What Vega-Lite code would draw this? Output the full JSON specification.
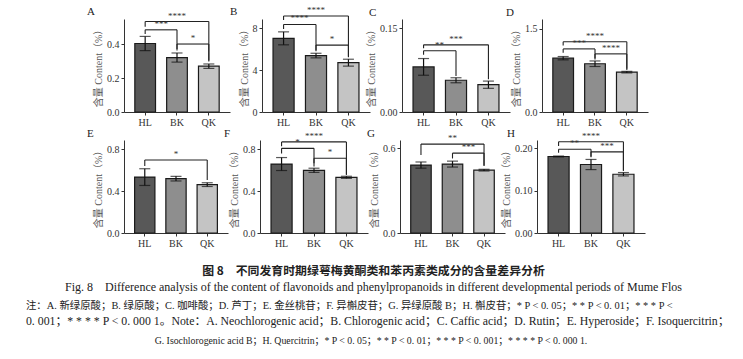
{
"$schema": "https://vega.github.io/schema/vega-lite/v6.json",
"padding": {"left": 25, "top": 5, "right": 5, "bottom": 3},
"background": "white",
"datasets": {
"bars": [
{"panel":"A","period":"HL","mean":0.405,"err":0.042},{"panel":"A","period":"BK","mean":0.322,"err":0.027},{"panel":"A","period":"QK","mean":0.271,"err":0.013},
{"panel":"B","period":"HL","mean":7.05,"err":0.62},{"panel":"B","period":"BK","mean":5.4,"err":0.22},{"panel":"B","period":"QK","mean":4.72,"err":0.33},
{"panel":"C","period":"HL","mean":0.081,"err":0.015},{"panel":"C","period":"BK","mean":0.057,"err":0.0045},{"panel":"C","period":"QK","mean":0.049,"err":0.0065},
{"panel":"D","period":"HL","mean":0.972,"err":0.03},{"panel":"D","period":"BK","mean":0.872,"err":0.05},{"panel":"D","period":"QK","mean":0.72,"err":0.014},
{"panel":"E","period":"HL","mean":0.535,"err":0.08},{"panel":"E","period":"BK","mean":0.52,"err":0.022},{"panel":"E","period":"QK","mean":0.463,"err":0.018},
{"panel":"F","period":"HL","mean":0.66,"err":0.062},{"panel":"F","period":"BK","mean":0.6,"err":0.02},{"panel":"F","period":"QK","mean":0.533,"err":0.01},
{"panel":"G","period":"HL","mean":0.482,"err":0.022},{"panel":"G","period":"BK","mean":0.489,"err":0.021},{"panel":"G","period":"QK","mean":0.446,"err":0.006},
{"panel":"H","period":"HL","mean":0.181,"err":0.001},{"panel":"H","period":"BK","mean":0.162,"err":0.012},{"panel":"H","period":"QK","mean":0.139,"err":0.004}
],
"brackets": [
{"panel":"A","from":"HL","to":"QK","mid":"BK","kind":"long","h":0.535,"lowFrom":0.504,"lowTo":0.304,"label":"****"},
{"panel":"A","from":"HL","to":"BK","mid":"HL","kind":"adj","h":0.486,"lowFrom":0.461,"lowTo":0.373,"label":"***"},
{"panel":"A","from":"BK","to":"QK","mid":"BK","kind":"adj","h":0.402,"lowFrom":0.363,"lowTo":0.298,"label":"*"},
{"panel":"B","from":"HL","to":"QK","mid":"BK","kind":"long","h":9.18,"lowFrom":8.8,"lowTo":5.25,"label":"****"},
{"panel":"B","from":"HL","to":"BK","mid":"HL","kind":"adj","h":8.38,"lowFrom":7.94,"lowTo":5.82,"label":"****"},
{"panel":"B","from":"BK","to":"QK","mid":"BK","kind":"adj","h":6.4,"lowFrom":5.92,"lowTo":5.3,"label":"*"},
{"panel":"C","from":"HL","to":"QK","mid":"BK","kind":"long","h":0.1206,"lowFrom":0.1147,"lowTo":0.0588,"label":"***"},
{"panel":"C","from":"HL","to":"BK","mid":"HL","kind":"adj","h":0.11,"lowFrom":0.103,"lowTo":0.0647,"label":"**"},
{"panel":"D","from":"HL","to":"QK","mid":"BK","kind":"long","h":1.27,"lowFrom":1.2,"lowTo":0.78,"label":"****"},
{"panel":"D","from":"HL","to":"BK","mid":"HL","kind":"adj","h":1.14,"lowFrom":1.07,"lowTo":0.95,"label":"***"},
{"panel":"D","from":"BK","to":"QK","mid":"BK","kind":"adj","h":1.05,"lowFrom":0.97,"lowTo":0.76,"label":"****"},
{"panel":"E","from":"HL","to":"QK","mid":"BK","kind":"long","h":0.698,"lowFrom":0.641,"lowTo":0.508,"label":"*"},
{"panel":"F","from":"HL","to":"QK","mid":"BK","kind":"long","h":0.872,"lowFrom":0.83,"lowTo":0.558,"label":"****"},
{"panel":"F","from":"HL","to":"BK","mid":"HL","kind":"adj","h":0.81,"lowFrom":0.762,"lowTo":0.637,"label":"*"},
{"panel":"F","from":"BK","to":"QK","mid":"BK","kind":"adj","h":0.715,"lowFrom":0.668,"lowTo":0.558,"label":"*"},
{"panel":"G","from":"HL","to":"QK","mid":"BK","kind":"long","h":0.631,"lowFrom":0.553,"lowTo":0.477,"label":"**"},
{"panel":"G","from":"BK","to":"QK","mid":"BK","kind":"adj","h":0.567,"lowFrom":0.529,"lowTo":0.477,"label":"***"},
{"panel":"H","from":"HL","to":"QK","mid":"BK","kind":"long","h":0.216,"lowFrom":0.206,"lowTo":0.147,"label":"****"},
{"panel":"H","from":"HL","to":"BK","mid":"HL","kind":"adj","h":0.198,"lowFrom":0.19,"lowTo":0.179,"label":"**"},
{"panel":"H","from":"BK","to":"QK","mid":"BK","kind":"adj","h":0.192,"lowFrom":0.181,"lowTo":0.147,"label":"***"}
]
},
"title": {
"text": "G. Isochlorogenic acid B；H. Quercitrin；* P < 0. 05；* * P < 0. 01；* * * P < 0. 001；* * * * P < 0. 000 1.",
"orient": "bottom", "anchor": "middle", "offset": 8, "dx": -7,
"font": "Liberation Serif, Noto Sans CJK SC", "fontSize": 9.8, "fontWeight": "normal", "color": "#222"
},
"config": {
"view": {"stroke": null},
"axis": {"labelFont": "Liberation Serif", "labelFontSize": 10, "labelColor": "#333", "domainColor": "#333", "tickColor": "#333", "tickSize": 3, "grid": false, "titleFont": "Liberation Serif, Noto Sans CJK SC", "titleFontSize": 10, "titleFontWeight": "normal", "titleColor": "#555", "labelPadding": 2, "titlePadding": 3},
"axisX": {"labelAngle": 0, "labelPadding": 2}
},
"vconcat": [
{"title": {
"text": "注：A. 新绿原酸；B. 绿原酸；C. 咖啡酸；D. 芦丁；E. 金丝桃苷；F. 异槲皮苷；G. 异绿原酸 B；H. 槲皮苷；* P < 0. 05；* * P < 0. 01；* * * P <",
"subtitle": "0. 001；* * * * P < 0. 000 1。Note：A. Neochlorogenic acid；B. Chlorogenic acid；C. Caffic acid；D. Rutin；E. Hyperoside；F. Isoquercitrin；",
"orient": "bottom", "anchor": "start", "offset": 8, "dx": -39,
"font": "Liberation Serif, Noto Sans CJK SC", "fontSize": 10.4, "fontWeight": "normal", "color": "#222",
"subtitleFont": "Liberation Serif, Noto Sans CJK SC", "subtitleFontSize": 11.8, "subtitleColor": "#222", "subtitlePadding": 5
},
"vconcat": [
{"title": {
"text": "图 8　不同发育时期绿萼梅黄酮类和苯丙素类成分的含量差异分析",
"orient": "bottom", "anchor": "middle", "offset": 18, "dx": 6,
"font": "Noto Sans CJK SC", "fontSize": 11.9, "fontWeight": "bold", "color": "#222",
"subtitle": "Fig. 8　Difference analysis of the content of flavonoids and phenylpropanoids in different developmental periods of Mume Flos",
"subtitleFont": "Liberation Serif", "subtitleFontSize": 12, "subtitleColor": "#222", "subtitlePadding": 4
},
"vconcat": [
{"hconcat": [
{"width":106,"height":93,"title":{"text":"A","anchor":"start","frame":"group","dx":-37,"dy":9,"fontSize":11,"font":"Liberation Serif","fontWeight":"normal","color":"#222"},
"layer":[
{"data":{"name":"bars"},"transform":[{"filter":"datum.panel==='A'"}],"mark":{"type":"bar","stroke":"#1a1a1a","strokeWidth":1.2},"encoding":{"x":{"field":"period","type":"nominal","title":null,"scale":{"domain":["HL","BK","QK"],"paddingInner":0.35,"paddingOuter":0.34}},"y":{"field":"mean","type":"quantitative","title":"含量 Content（%）","scale":{"domain":[0,0.55],"nice":false},"axis":{"values":[0,0.1,0.2,0.3,0.4,0.5],"format":".1f"}},"color":{"field":"period","type":"nominal","scale":{"domain":["HL","BK","QK"],"range":["#585858","#8e8e8e","#c4c4c4"]},"legend":null}}},
{"data":{"name":"bars"},"transform":[{"filter":"datum.panel==='A'"}],"mark":{"type":"errorbar","ticks":true,"size":11,"thickness":1.2,"color":"#111"},"encoding":{"x":{"field":"period","type":"nominal","title":null},"y":{"field":"mean","type":"quantitative","title":"含量 Content（%）"},"yError":{"field":"err"}}},
{"data":{"name":"brackets"},"transform":[{"filter":"datum.panel==='A'"}],"mark":{"type":"rule","color":"#222","strokeWidth":1.1},"encoding":{"x":{"field":"from","type":"nominal","title":null},"x2":{"field":"to"},"y":{"field":"h","type":"quantitative","title":"含量 Content（%）"}}},
{"data":{"name":"brackets"},"transform":[{"filter":"datum.panel==='A'"}],"mark":{"type":"rule","color":"#222","strokeWidth":1.1},"encoding":{"x":{"field":"from","type":"nominal","title":null},"y":{"field":"h","type":"quantitative","title":"含量 Content（%）"},"y2":{"field":"lowFrom"}}},
{"data":{"name":"brackets"},"transform":[{"filter":"datum.panel==='A'"}],"mark":{"type":"rule","color":"#222","strokeWidth":1.1},"encoding":{"x":{"field":"to","type":"nominal","title":null},"y":{"field":"h","type":"quantitative","title":"含量 Content（%）"},"y2":{"field":"lowTo"}}},
{"data":{"name":"brackets"},"transform":[{"filter":"datum.panel==='A' && datum.kind==='long'"}],"mark":{"type":"text","baseline":"bottom","dy":-1,"fontSize":9,"color":"#333","font":"Liberation Serif"},"encoding":{"x":{"field":"mid","type":"nominal","title":null},"y":{"field":"h","type":"quantitative","title":"含量 Content（%）"},"text":{"field":"label"}}},
{"data":{"name":"brackets"},"transform":[{"filter":"datum.panel==='A' && datum.kind==='adj'"}],"mark":{"type":"text","baseline":"bottom","dy":-1,"xOffset":16,"fontSize":9,"color":"#333","font":"Liberation Serif"},"encoding":{"x":{"field":"from","type":"nominal","title":null},"y":{"field":"h","type":"quantitative","title":"含量 Content（%）"},"text":{"field":"label"}}}
]},
{"width":108,"height":93,"title":{"text":"B","anchor":"start","frame":"group","dx":-32,"dy":15,"fontSize":11,"font":"Liberation Serif","fontWeight":"normal","color":"#222"},
"layer":[
{"data":{"name":"bars"},"transform":[{"filter":"datum.panel==='B'"}],"mark":{"type":"bar","stroke":"#1a1a1a","strokeWidth":1.2},"encoding":{"x":{"field":"period","type":"nominal","title":null,"scale":{"domain":["HL","BK","QK"],"paddingInner":0.35,"paddingOuter":0.34}},"y":{"field":"mean","type":"quantitative","title":"含量 Content（%）","scale":{"domain":[0,8.9],"nice":false},"axis":{"values":[0,2,4,6,8],"format":"d"}},"color":{"field":"period","type":"nominal","scale":{"domain":["HL","BK","QK"],"range":["#585858","#8e8e8e","#c4c4c4"]},"legend":null}}},
{"data":{"name":"bars"},"transform":[{"filter":"datum.panel==='B'"}],"mark":{"type":"errorbar","ticks":true,"size":11,"thickness":1.2,"color":"#111"},"encoding":{"x":{"field":"period","type":"nominal","title":null},"y":{"field":"mean","type":"quantitative","title":"含量 Content（%）"},"yError":{"field":"err"}}},
{"data":{"name":"brackets"},"transform":[{"filter":"datum.panel==='B'"}],"mark":{"type":"rule","color":"#222","strokeWidth":1.1},"encoding":{"x":{"field":"from","type":"nominal","title":null},"x2":{"field":"to"},"y":{"field":"h","type":"quantitative","title":"含量 Content（%）"}}},
{"data":{"name":"brackets"},"transform":[{"filter":"datum.panel==='B'"}],"mark":{"type":"rule","color":"#222","strokeWidth":1.1},"encoding":{"x":{"field":"from","type":"nominal","title":null},"y":{"field":"h","type":"quantitative","title":"含量 Content（%）"},"y2":{"field":"lowFrom"}}},
{"data":{"name":"brackets"},"transform":[{"filter":"datum.panel==='B'"}],"mark":{"type":"rule","color":"#222","strokeWidth":1.1},"encoding":{"x":{"field":"to","type":"nominal","title":null},"y":{"field":"h","type":"quantitative","title":"含量 Content（%）"},"y2":{"field":"lowTo"}}},
{"data":{"name":"brackets"},"transform":[{"filter":"datum.panel==='B' && datum.kind==='long'"}],"mark":{"type":"text","baseline":"bottom","dy":-1,"fontSize":9,"color":"#333","font":"Liberation Serif"},"encoding":{"x":{"field":"mid","type":"nominal","title":null},"y":{"field":"h","type":"quantitative","title":"含量 Content（%）"},"text":{"field":"label"}}},
{"data":{"name":"brackets"},"transform":[{"filter":"datum.panel==='B' && datum.kind==='adj'"}],"mark":{"type":"text","baseline":"bottom","dy":-1,"xOffset":16,"fontSize":9,"color":"#333","font":"Liberation Serif"},"encoding":{"x":{"field":"from","type":"nominal","title":null},"y":{"field":"h","type":"quantitative","title":"含量 Content（%）"},"text":{"field":"label"}}}
]},
{"width":108,"height":93,"title":{"text":"C","anchor":"start","frame":"group","dx":-33,"dy":3,"fontSize":11,"font":"Liberation Serif","fontWeight":"normal","color":"#222"},
"layer":[
{"data":{"name":"bars"},"transform":[{"filter":"datum.panel==='C'"}],"mark":{"type":"bar","stroke":"#1a1a1a","strokeWidth":1.2},"encoding":{"x":{"field":"period","type":"nominal","title":null,"scale":{"domain":["HL","BK","QK"],"paddingInner":0.35,"paddingOuter":0.34}},"y":{"field":"mean","type":"quantitative","title":"含量 Content（%）","scale":{"domain":[0,0.167],"nice":false},"axis":{"values":[0,0.05,0.1,0.15],"format":".2f"}},"color":{"field":"period","type":"nominal","scale":{"domain":["HL","BK","QK"],"range":["#585858","#8e8e8e","#c4c4c4"]},"legend":null}}},
{"data":{"name":"bars"},"transform":[{"filter":"datum.panel==='C'"}],"mark":{"type":"errorbar","ticks":true,"size":11,"thickness":1.2,"color":"#111"},"encoding":{"x":{"field":"period","type":"nominal","title":null},"y":{"field":"mean","type":"quantitative","title":"含量 Content（%）"},"yError":{"field":"err"}}},
{"data":{"name":"brackets"},"transform":[{"filter":"datum.panel==='C'"}],"mark":{"type":"rule","color":"#222","strokeWidth":1.1},"encoding":{"x":{"field":"from","type":"nominal","title":null},"x2":{"field":"to"},"y":{"field":"h","type":"quantitative","title":"含量 Content（%）"}}},
{"data":{"name":"brackets"},"transform":[{"filter":"datum.panel==='C'"}],"mark":{"type":"rule","color":"#222","strokeWidth":1.1},"encoding":{"x":{"field":"from","type":"nominal","title":null},"y":{"field":"h","type":"quantitative","title":"含量 Content（%）"},"y2":{"field":"lowFrom"}}},
{"data":{"name":"brackets"},"transform":[{"filter":"datum.panel==='C'"}],"mark":{"type":"rule","color":"#222","strokeWidth":1.1},"encoding":{"x":{"field":"to","type":"nominal","title":null},"y":{"field":"h","type":"quantitative","title":"含量 Content（%）"},"y2":{"field":"lowTo"}}},
{"data":{"name":"brackets"},"transform":[{"filter":"datum.panel==='C' && datum.kind==='long'"}],"mark":{"type":"text","baseline":"bottom","dy":-1,"fontSize":9,"color":"#333","font":"Liberation Serif"},"encoding":{"x":{"field":"mid","type":"nominal","title":null},"y":{"field":"h","type":"quantitative","title":"含量 Content（%）"},"text":{"field":"label"}}},
{"data":{"name":"brackets"},"transform":[{"filter":"datum.panel==='C' && datum.kind==='adj'"}],"mark":{"type":"text","baseline":"bottom","dy":-1,"xOffset":16,"fontSize":9,"color":"#333","font":"Liberation Serif"},"encoding":{"x":{"field":"from","type":"nominal","title":null},"y":{"field":"h","type":"quantitative","title":"含量 Content（%）"},"text":{"field":"label"}}}
]},
{"width":106,"height":93,"title":{"text":"D","anchor":"start","frame":"group","dx":-36,"dy":3,"fontSize":11,"font":"Liberation Serif","fontWeight":"normal","color":"#222"},
"layer":[
{"data":{"name":"bars"},"transform":[{"filter":"datum.panel==='D'"}],"mark":{"type":"bar","stroke":"#1a1a1a","strokeWidth":1.2},"encoding":{"x":{"field":"period","type":"nominal","title":null,"scale":{"domain":["HL","BK","QK"],"paddingInner":0.35,"paddingOuter":0.34}},"y":{"field":"mean","type":"quantitative","title":"含量 Content（%）","scale":{"domain":[0,1.68],"nice":false},"axis":{"values":[0,0.5,1,1.5],"format":".1f"}},"color":{"field":"period","type":"nominal","scale":{"domain":["HL","BK","QK"],"range":["#585858","#8e8e8e","#c4c4c4"]},"legend":null}}},
{"data":{"name":"bars"},"transform":[{"filter":"datum.panel==='D'"}],"mark":{"type":"errorbar","ticks":true,"size":11,"thickness":1.2,"color":"#111"},"encoding":{"x":{"field":"period","type":"nominal","title":null},"y":{"field":"mean","type":"quantitative","title":"含量 Content（%）"},"yError":{"field":"err"}}},
{"data":{"name":"brackets"},"transform":[{"filter":"datum.panel==='D'"}],"mark":{"type":"rule","color":"#222","strokeWidth":1.1},"encoding":{"x":{"field":"from","type":"nominal","title":null},"x2":{"field":"to"},"y":{"field":"h","type":"quantitative","title":"含量 Content（%）"}}},
{"data":{"name":"brackets"},"transform":[{"filter":"datum.panel==='D'"}],"mark":{"type":"rule","color":"#222","strokeWidth":1.1},"encoding":{"x":{"field":"from","type":"nominal","title":null},"y":{"field":"h","type":"quantitative","title":"含量 Content（%）"},"y2":{"field":"lowFrom"}}},
{"data":{"name":"brackets"},"transform":[{"filter":"datum.panel==='D'"}],"mark":{"type":"rule","color":"#222","strokeWidth":1.1},"encoding":{"x":{"field":"to","type":"nominal","title":null},"y":{"field":"h","type":"quantitative","title":"含量 Content（%）"},"y2":{"field":"lowTo"}}},
{"data":{"name":"brackets"},"transform":[{"filter":"datum.panel==='D' && datum.kind==='long'"}],"mark":{"type":"text","baseline":"bottom","dy":-1,"fontSize":9,"color":"#333","font":"Liberation Serif"},"encoding":{"x":{"field":"mid","type":"nominal","title":null},"y":{"field":"h","type":"quantitative","title":"含量 Content（%）"},"text":{"field":"label"}}},
{"data":{"name":"brackets"},"transform":[{"filter":"datum.panel==='D' && datum.kind==='adj'"}],"mark":{"type":"text","baseline":"bottom","dy":-1,"xOffset":16,"fontSize":9,"color":"#333","font":"Liberation Serif"},"encoding":{"x":{"field":"from","type":"nominal","title":null},"y":{"field":"h","type":"quantitative","title":"含量 Content（%）"},"text":{"field":"label"}}}
]}
], "bounds": "flush", "spacing": 32},
{"hconcat": [
{"width":104,"height":93,"title":{"text":"E","anchor":"start","frame":"group","dx":-37,"dy":3,"fontSize":11,"font":"Liberation Serif","fontWeight":"normal","color":"#222"},
"layer":[
{"data":{"name":"bars"},"transform":[{"filter":"datum.panel==='E'"}],"mark":{"type":"bar","stroke":"#1a1a1a","strokeWidth":1.2},"encoding":{"x":{"field":"period","type":"nominal","title":null,"scale":{"domain":["HL","BK","QK"],"paddingInner":0.35,"paddingOuter":0.34}},"y":{"field":"mean","type":"quantitative","title":"含量 Content（%）","scale":{"domain":[0,0.89],"nice":false},"axis":{"values":[0,0.2,0.4,0.6,0.8],"format":".1f"}},"color":{"field":"period","type":"nominal","scale":{"domain":["HL","BK","QK"],"range":["#585858","#8e8e8e","#c4c4c4"]},"legend":null}}},
{"data":{"name":"bars"},"transform":[{"filter":"datum.panel==='E'"}],"mark":{"type":"errorbar","ticks":true,"size":11,"thickness":1.2,"color":"#111"},"encoding":{"x":{"field":"period","type":"nominal","title":null},"y":{"field":"mean","type":"quantitative","title":"含量 Content（%）"},"yError":{"field":"err"}}},
{"data":{"name":"brackets"},"transform":[{"filter":"datum.panel==='E'"}],"mark":{"type":"rule","color":"#222","strokeWidth":1.1},"encoding":{"x":{"field":"from","type":"nominal","title":null},"x2":{"field":"to"},"y":{"field":"h","type":"quantitative","title":"含量 Content（%）"}}},
{"data":{"name":"brackets"},"transform":[{"filter":"datum.panel==='E'"}],"mark":{"type":"rule","color":"#222","strokeWidth":1.1},"encoding":{"x":{"field":"from","type":"nominal","title":null},"y":{"field":"h","type":"quantitative","title":"含量 Content（%）"},"y2":{"field":"lowFrom"}}},
{"data":{"name":"brackets"},"transform":[{"filter":"datum.panel==='E'"}],"mark":{"type":"rule","color":"#222","strokeWidth":1.1},"encoding":{"x":{"field":"to","type":"nominal","title":null},"y":{"field":"h","type":"quantitative","title":"含量 Content（%）"},"y2":{"field":"lowTo"}}},
{"data":{"name":"brackets"},"transform":[{"filter":"datum.panel==='E' && datum.kind==='long'"}],"mark":{"type":"text","baseline":"bottom","dy":-1,"fontSize":9,"color":"#333","font":"Liberation Serif"},"encoding":{"x":{"field":"mid","type":"nominal","title":null},"y":{"field":"h","type":"quantitative","title":"含量 Content（%）"},"text":{"field":"label"}}}
]},
{"width":108,"height":93,"title":{"text":"F","anchor":"start","frame":"group","dx":-36,"dy":11,"fontSize":11,"font":"Liberation Serif","fontWeight":"normal","color":"#222"},
"layer":[
{"data":{"name":"bars"},"transform":[{"filter":"datum.panel==='F'"}],"mark":{"type":"bar","stroke":"#1a1a1a","strokeWidth":1.2},"encoding":{"x":{"field":"period","type":"nominal","title":null,"scale":{"domain":["HL","BK","QK"],"paddingInner":0.35,"paddingOuter":0.34}},"y":{"field":"mean","type":"quantitative","title":"含量 Content（%）","scale":{"domain":[0,0.89],"nice":false},"axis":{"values":[0,0.2,0.4,0.6,0.8],"format":".1f"}},"color":{"field":"period","type":"nominal","scale":{"domain":["HL","BK","QK"],"range":["#585858","#8e8e8e","#c4c4c4"]},"legend":null}}},
{"data":{"name":"bars"},"transform":[{"filter":"datum.panel==='F'"}],"mark":{"type":"errorbar","ticks":true,"size":11,"thickness":1.2,"color":"#111"},"encoding":{"x":{"field":"period","type":"nominal","title":null},"y":{"field":"mean","type":"quantitative","title":"含量 Content（%）"},"yError":{"field":"err"}}},
{"data":{"name":"brackets"},"transform":[{"filter":"datum.panel==='F'"}],"mark":{"type":"rule","color":"#222","strokeWidth":1.1},"encoding":{"x":{"field":"from","type":"nominal","title":null},"x2":{"field":"to"},"y":{"field":"h","type":"quantitative","title":"含量 Content（%）"}}},
{"data":{"name":"brackets"},"transform":[{"filter":"datum.panel==='F'"}],"mark":{"type":"rule","color":"#222","strokeWidth":1.1},"encoding":{"x":{"field":"from","type":"nominal","title":null},"y":{"field":"h","type":"quantitative","title":"含量 Content（%）"},"y2":{"field":"lowFrom"}}},
{"data":{"name":"brackets"},"transform":[{"filter":"datum.panel==='F'"}],"mark":{"type":"rule","color":"#222","strokeWidth":1.1},"encoding":{"x":{"field":"to","type":"nominal","title":null},"y":{"field":"h","type":"quantitative","title":"含量 Content（%）"},"y2":{"field":"lowTo"}}},
{"data":{"name":"brackets"},"transform":[{"filter":"datum.panel==='F' && datum.kind==='long'"}],"mark":{"type":"text","baseline":"bottom","dy":-1,"fontSize":9,"color":"#333","font":"Liberation Serif"},"encoding":{"x":{"field":"mid","type":"nominal","title":null},"y":{"field":"h","type":"quantitative","title":"含量 Content（%）"},"text":{"field":"label"}}},
{"data":{"name":"brackets"},"transform":[{"filter":"datum.panel==='F' && datum.kind==='adj'"}],"mark":{"type":"text","baseline":"bottom","dy":-1,"xOffset":16,"fontSize":9,"color":"#333","font":"Liberation Serif"},"encoding":{"x":{"field":"from","type":"nominal","title":null},"y":{"field":"h","type":"quantitative","title":"含量 Content（%）"},"text":{"field":"label"}}}
]},
{"width":105,"height":93,"title":{"text":"G","anchor":"start","frame":"group","dx":-33,"dy":9,"fontSize":11,"font":"Liberation Serif","fontWeight":"normal","color":"#222"},
"layer":[
{"data":{"name":"bars"},"transform":[{"filter":"datum.panel==='G'"}],"mark":{"type":"bar","stroke":"#1a1a1a","strokeWidth":1.2},"encoding":{"x":{"field":"period","type":"nominal","title":null,"scale":{"domain":["HL","BK","QK"],"paddingInner":0.35,"paddingOuter":0.34}},"y":{"field":"mean","type":"quantitative","title":"含量 Content（%）","scale":{"domain":[0,0.66],"nice":false},"axis":{"values":[0,0.2,0.4,0.6],"format":".1f"}},"color":{"field":"period","type":"nominal","scale":{"domain":["HL","BK","QK"],"range":["#585858","#8e8e8e","#c4c4c4"]},"legend":null}}},
{"data":{"name":"bars"},"transform":[{"filter":"datum.panel==='G'"}],"mark":{"type":"errorbar","ticks":true,"size":11,"thickness":1.2,"color":"#111"},"encoding":{"x":{"field":"period","type":"nominal","title":null},"y":{"field":"mean","type":"quantitative","title":"含量 Content（%）"},"yError":{"field":"err"}}},
{"data":{"name":"brackets"},"transform":[{"filter":"datum.panel==='G'"}],"mark":{"type":"rule","color":"#222","strokeWidth":1.1},"encoding":{"x":{"field":"from","type":"nominal","title":null},"x2":{"field":"to"},"y":{"field":"h","type":"quantitative","title":"含量 Content（%）"}}},
{"data":{"name":"brackets"},"transform":[{"filter":"datum.panel==='G'"}],"mark":{"type":"rule","color":"#222","strokeWidth":1.1},"encoding":{"x":{"field":"from","type":"nominal","title":null},"y":{"field":"h","type":"quantitative","title":"含量 Content（%）"},"y2":{"field":"lowFrom"}}},
{"data":{"name":"brackets"},"transform":[{"filter":"datum.panel==='G'"}],"mark":{"type":"rule","color":"#222","strokeWidth":1.1},"encoding":{"x":{"field":"to","type":"nominal","title":null},"y":{"field":"h","type":"quantitative","title":"含量 Content（%）"},"y2":{"field":"lowTo"}}},
{"data":{"name":"brackets"},"transform":[{"filter":"datum.panel==='G' && datum.kind==='long'"}],"mark":{"type":"text","baseline":"bottom","dy":-1,"fontSize":9,"color":"#333","font":"Liberation Serif"},"encoding":{"x":{"field":"mid","type":"nominal","title":null},"y":{"field":"h","type":"quantitative","title":"含量 Content（%）"},"text":{"field":"label"}}},
{"data":{"name":"brackets"},"transform":[{"filter":"datum.panel==='G' && datum.kind==='adj'"}],"mark":{"type":"text","baseline":"bottom","dy":-1,"xOffset":16,"fontSize":9,"color":"#333","font":"Liberation Serif"},"encoding":{"x":{"field":"from","type":"nominal","title":null},"y":{"field":"h","type":"quantitative","title":"含量 Content（%）"},"text":{"field":"label"}}}
]},
{"width":108,"height":93,"title":{"text":"H","anchor":"start","frame":"group","dx":-30,"dy":11,"fontSize":11,"font":"Liberation Serif","fontWeight":"normal","color":"#222"},
"layer":[
{"data":{"name":"bars"},"transform":[{"filter":"datum.panel==='H'"}],"mark":{"type":"bar","stroke":"#1a1a1a","strokeWidth":1.2},"encoding":{"x":{"field":"period","type":"nominal","title":null,"scale":{"domain":["HL","BK","QK"],"paddingInner":0.35,"paddingOuter":0.34}},"y":{"field":"mean","type":"quantitative","title":"含量 Content（%）","scale":{"domain":[0,0.22],"nice":false},"axis":{"values":[0,0.05,0.1,0.15,0.2],"format":".2f"}},"color":{"field":"period","type":"nominal","scale":{"domain":["HL","BK","QK"],"range":["#585858","#8e8e8e","#c4c4c4"]},"legend":null}}},
{"data":{"name":"bars"},"transform":[{"filter":"datum.panel==='H'"}],"mark":{"type":"errorbar","ticks":true,"size":11,"thickness":1.2,"color":"#111"},"encoding":{"x":{"field":"period","type":"nominal","title":null},"y":{"field":"mean","type":"quantitative","title":"含量 Content（%）"},"yError":{"field":"err"}}},
{"data":{"name":"brackets"},"transform":[{"filter":"datum.panel==='H'"}],"mark":{"type":"rule","color":"#222","strokeWidth":1.1},"encoding":{"x":{"field":"from","type":"nominal","title":null},"x2":{"field":"to"},"y":{"field":"h","type":"quantitative","title":"含量 Content（%）"}}},
{"data":{"name":"brackets"},"transform":[{"filter":"datum.panel==='H'"}],"mark":{"type":"rule","color":"#222","strokeWidth":1.1},"encoding":{"x":{"field":"from","type":"nominal","title":null},"y":{"field":"h","type":"quantitative","title":"含量 Content（%）"},"y2":{"field":"lowFrom"}}},
{"data":{"name":"brackets"},"transform":[{"filter":"datum.panel==='H'"}],"mark":{"type":"rule","color":"#222","strokeWidth":1.1},"encoding":{"x":{"field":"to","type":"nominal","title":null},"y":{"field":"h","type":"quantitative","title":"含量 Content（%）"},"y2":{"field":"lowTo"}}},
{"data":{"name":"brackets"},"transform":[{"filter":"datum.panel==='H' && datum.kind==='long'"}],"mark":{"type":"text","baseline":"bottom","dy":-1,"fontSize":9,"color":"#333","font":"Liberation Serif"},"encoding":{"x":{"field":"mid","type":"nominal","title":null},"y":{"field":"h","type":"quantitative","title":"含量 Content（%）"},"text":{"field":"label"}}},
{"data":{"name":"brackets"},"transform":[{"filter":"datum.panel==='H' && datum.kind==='adj'"}],"mark":{"type":"text","baseline":"bottom","dy":-1,"xOffset":16,"fontSize":9,"color":"#333","font":"Liberation Serif"},"encoding":{"x":{"field":"from","type":"nominal","title":null},"y":{"field":"h","type":"quantitative","title":"含量 Content（%）"},"text":{"field":"label"}}}
]}
], "bounds": "flush", "spacing": 32}
], "spacing": 0}
]}
]
}
